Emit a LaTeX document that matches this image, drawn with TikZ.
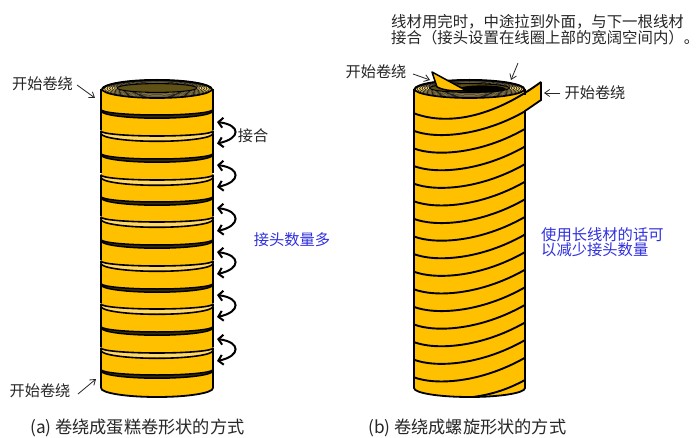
\documentclass[tikz,border=0pt]{standalone}
\usepackage{fontspec}
\setmainfont{Noto Sans CJK SC}
\usetikzlibrary{arrows.meta}
\definecolor{tape}{HTML}{FFC000}
\definecolor{lite}{HTML}{FFD966}
\definecolor{olive}{HTML}{3A3008}
\definecolor{holecol}{HTML}{5F5015}
\definecolor{bluetxt}{HTML}{3030E0}
\definecolor{ink}{HTML}{262626}
\newcommand{\rimrings}[1]{%
  \foreach \rx/\ry/\cy in {55/9/89,52.5/8.1/88.7,50/7.4/88.5,47.5/6.7/88.3,45/6/88.2,42.5/5.2/88.1}
    {\filldraw[fill=lite,draw=black!85,line width=.7] (#1,\cy) ellipse [x radius=\rx, y radius=\ry];}
  \filldraw[fill=holecol,draw=black,line width=1.1] (#1,88) ellipse [x radius=40, y radius=4.4];
  \draw[line width=2,black] (#1-55,89) .. controls (#1-53,84) and (#1-30,80) .. (#1,80) .. controls (#1+30,80) and (#1+53,84) .. (#1+55,89);
  \draw[line width=1.7,black] (#1-55,89) .. controls (#1-55,94) and (#1-30,98) .. (#1,98) .. controls (#1+30,98) and (#1+55,94) .. (#1+55,89);
}
\newcommand{\darkgroove}[1]{%
  \filldraw[fill=olive,draw=black,line width=1.5,line join=round]
    (101,#1-.5) .. controls (101,{#1-.5+.55*5.5}) and (126,{#1-.5+5.5}) .. (157,{#1-.5+5.5})
    .. controls (188,{#1-.5+5.5}) and (213,{#1-.5+.55*5.5}) .. (213,#1-.5)
    -- (213,#1+.8) .. controls (213,{#1+.8+.55*7.4}) and (188,{#1+.8+7.4}) .. (157,{#1+.8+7.4})
    .. controls (126,{#1+.8+7.4}) and (101,{#1+.8+.55*7.4}) .. (101,#1+.8) -- cycle;
}
\newcommand{\litegroove}[1]{%
  \filldraw[fill=lite,draw=black,line width=1.6,line join=round]
    (101,#1) .. controls (101,{#1+.55*5}) and (126,{#1+5}) .. (157,{#1+5})
    .. controls (188,{#1+5}) and (213,{#1+.55*5}) .. (213,#1)
    -- (213,#1+2.5) .. controls (213,{#1+2.5+.55*7.8}) and (188,{#1+2.5+7.8}) .. (157,{#1+2.5+7.8})
    .. controls (126,{#1+2.5+7.8}) and (101,{#1+2.5+.55*7.8}) .. (101,#1+2.5) -- cycle;
}
\tikzset{
  lbl/.style={inner sep=0,font=\fontsize{15.2}{16}\selectfont,text=ink},
  captxt/.style={inner sep=0,font=\fontsize{17.2}{18}\selectfont,text=ink},
  bluelbl/.style={inner sep=0,font=\fontsize{15.3}{15.3}\selectfont,text=bluetxt,align=left},
  thinarrow/.style={draw=ink,line width=.8,-{Straight Barb[length=5pt,width=7pt,line width=.8pt]}},
  joinarrow/.style={draw=black,line width=2,line cap=round,{Straight Barb[length=4.5pt,width=10pt,line width=2pt]}-{Straight Barb[length=4.5pt,width=10pt,line width=2pt]}},
  bodyedge/.style={draw=black,line width=1.8},
  spiral/.style={draw=black,line width=1.9}
}
\begin{document}
\begin{tikzpicture}[x=1pt,y=-1pt]
\useasboundingbox (0,0) rectangle (700,438);
\fill[white] (0,0) rectangle (700,438);

% left cylinder
\fill[tape] (101,89) -- (101,388) .. controls (101,393) and (126,397) .. (157,397) .. controls (188,397) and (213,393) .. (213,388) -- (213,89) -- cycle;
\foreach \ya/\yb in {89/130,134/173.5,178/216,220/259.5,264/303,307/346.5,351/388}{
  \draw[bodyedge] (101,\ya) -- (101,\yb);
  \draw[bodyedge] (213,\ya) -- (213,\yb);
}
\draw[bodyedge] (101,388) .. controls (101,393) and (126,397) .. (157,397) .. controls (188,397) and (213,393) .. (213,388);
\rimrings{157}
\foreach \y in {110,154,197,240,284,327,370}{\darkgroove{\y}}
\foreach \y in {131,175,217,261,304,348}{\litegroove{\y}}

% double arrows
\foreach \n/\ya/\yb in {1/122/143.5,2/165/187,3/208/231,4/252/274,5/295/317,6/339/361}{
  \coordinate (ja\n) at (217,\ya);
  \coordinate (jb\n) at (217,\yb);
  \draw[joinarrow] (ja\n) .. controls (241,\ya+3) and (241,\yb-5) .. (jb\n);
}

% right cylinder
\fill[tape] (414,89) -- (414,388) .. controls (414,393) and (439,397) .. (469.5,397) .. controls (500,397) and (525,393) .. (525,388) -- (525,89) -- cycle;
\rimrings{469.5}
\fill[black] (482,89) ellipse [x radius=24, y radius=3.6];
\fill[tape] (541,82) -- (541,100) -- (525,111) -- (500,118) -- (500,106) -- cycle;
\draw[bodyedge] (414,89) -- (414,388) .. controls (414,393) and (439,397) .. (469.5,397) .. controls (500,397) and (525,393) .. (525,388) -- (525,111) -- (541,100) -- (541,82);
\draw[bodyedge] (525,89) -- (525,95);
\draw[spiral] (414,113.3) .. controls (445,125) and (490,119.5) .. (541,82);
\foreach \k in {1,...,15}{
  \pgfmathsetmacro{\L}{113.3+17.6*\k}
  \draw[spiral] (414,\L) .. controls (435,\L+8) and (480,\L+6) .. (525,\L-19.6);
}
\draw[spiral] (525,380) .. controls (510,388) and (495,394) .. (473,397);
% start flap
\filldraw[fill=tape,draw=black,line width=1.5,line join=round] (432,72) -- (467,91) .. controls (455,91) and (445,91) .. (437,87) -- cycle;

% labels
\node[lbl,anchor=center] (s1) at (42.5,84) {开始卷绕};
\node[lbl,anchor=center] (s2) at (40,391) {开始卷绕};
\node[lbl,anchor=center] (s3) at (376,72) {开始卷绕};
\node[lbl,anchor=center] (s4) at (595,93) {开始卷绕};
\node[lbl,anchor=center] (jn) at (253,136) {接合};
\node[lbl,anchor=north west,align=left,font=\fontsize{15.4}{16}\selectfont] (note) at (391,14) {线材用完时，中途拉到外面，与下一根线材\\接合（接头设置在线圈上部的宽阔空间内）。};
\node[bluelbl,anchor=center] (many) at (292,240) {接头数量多};
\node[bluelbl,anchor=north west] (few) at (541,227.5) {使用长线材的话可\\以减少接头数量};
\node[captxt,anchor=west] (capa) at (30,428) {(a) 卷绕成蛋糕卷形状的方式};
\node[captxt,anchor=west] (capb) at (368,428) {(b) 卷绕成螺旋形状的方式};

% thin arrows
\coordinate (t1a) at (77,85); \coordinate (t1b) at (95,98);
\coordinate (t2a) at (78,394); \coordinate (t2b) at (96,379);
\coordinate (t3a) at (413,74); \coordinate (t3b) at (430,80);
\coordinate (t4a) at (518,63); \coordinate (t4b) at (511,80);
\coordinate (t5a) at (560,93); \coordinate (t5b) at (544,93);
\foreach \n in {1,...,5}{\draw[thinarrow] (t\n a) -- (t\n b);}
\end{tikzpicture}
\end{document}
